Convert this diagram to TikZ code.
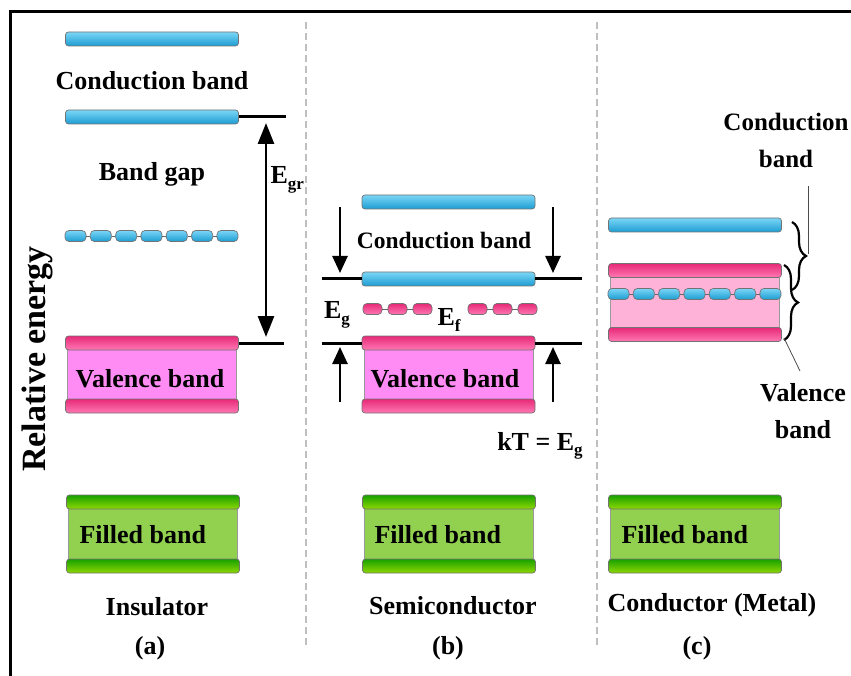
\documentclass[tikz,border=0pt]{standalone}
\usepackage{fontspec}
\setmainfont{Liberation Serif}
\usepackage{tikz}
\usetikzlibrary{arrows.meta,positioning,decorations.pathreplacing,calc}

\definecolor{cbTop}{HTML}{7AD6F7}
\definecolor{cbBot}{HTML}{1C9DD2}
\definecolor{vbTop}{HTML}{E62A78}
\definecolor{vbBot}{HTML}{FF78B4}
\definecolor{fbTop}{HTML}{18A000}
\definecolor{fbBot}{HTML}{8ED800}
\definecolor{vfill}{HTML}{FF8CF5}
\definecolor{mfill}{HTML}{FFB2D8}
\definecolor{ffill}{HTML}{92D050}

\newcommand{\lowsub}[1]{\raisebox{-0.45ex}{\fontsize{17}{17}\selectfont #1}}

\begin{document}
\begin{tikzpicture}[
  x=1pt, y=-1pt,
  every node/.style={font=\fontsize{26}{37}\selectfont\bfseries},
  bar/.style={rectangle, rounded corners=3pt, draw=black!55, line width=0.7pt,
    minimum width=173pt, minimum height=14pt, inner sep=0pt},
  cbar/.style={bar, top color=cbTop, bottom color=cbBot},
  vbar/.style={bar, top color=vbTop, bottom color=vbBot},
  fbar/.style={bar, top color=fbTop, bottom color=fbBot},
  seg/.style={minimum width=#1, minimum height=11pt, rounded corners=4pt},
  link/.style={line width=0.7pt, black!60},
  band/.style={rectangle, draw=black!40, line width=0.6pt, minimum width=169pt, inner sep=0pt},
  level/.style={line width=3pt},
  garr/.style={line width=2.6pt, {Triangle[length=21pt,width=16pt]}-{Triangle[length=21pt,width=16pt]}},
  darr/.style={line width=2.6pt, -{Triangle[length=17pt,width=15pt]}},
  brc/.style={decorate, decoration={brace, amplitude=14pt}, line width=2.2pt},
  lead/.style={line width=0.8pt, black!70},
  sep/.style={gray!50, line width=1.2pt, dash pattern=on 7pt off 4pt},
]
\useasboundingbox (0,0) rectangle (851,676);

%% frame and separators
\coordinate (fr1) at (10,676);
\coordinate (fr2) at (10,12);
\coordinate (fr3) at (851,12);
\draw[line width=3pt] (fr1) -- (fr2) -- (fr3);
\coordinate (s1a) at (306,22);
\coordinate (s1b) at (306,648);
\coordinate (s2a) at (597,22);
\coordinate (s2b) at (597,648);
\draw[sep] (s1a) -- (s1b);
\draw[sep] (s2a) -- (s2b);

\node[rotate=90, font=\fontsize{34}{34}\selectfont\bfseries] (yl) at (37,359) {Relative energy};

%% ── (a) insulator ────────────────────────────────────────────
\node[cbar] (cA1) at (152,39) {};
\node (cbA) at (152,81) {Conduction band};
\node[cbar] (cA2) at (152,117) {};
\node (gapA) at (152,174) {Band gap};

\foreach \i in {1,...,7} {
  \node[cbar, seg=21pt] (dA\i) at ({75.5+(\i-1)*25.33},236) {};
}
\foreach \i [count=\j from 2] in {1,...,6} { \draw[link] (dA\i.east) -- (dA\j.west); }

\node[band, fill=vfill, minimum height=63pt] (vbA) at (152,374.5) {};
\node[vbar] (vA1) at (152,343) {};
\node[vbar] (vA2) at (152,406) {};
\node (vtA) at (150,379) {Valence band};

\coordinate (lA1) at (286,117);
\coordinate (lA2) at (284,343);
\draw[level] (cA2.east) -- (lA1);
\draw[level] (vA1.east) -- (lA2);
\coordinate (eA1) at (266,123);
\coordinate (eA2) at (266,337);
\draw[garr] (eA1) -- (eA2);
\node[anchor=west] (egr) at (267,180) {E\lowsub{gr}};

\node[band, fill=ffill, minimum height=64pt] (fbA) at (153,534) {};
\node[fbar] (fA1) at (153,502) {};
\node[fbar] (fA2) at (153,566) {};
\node[anchor=west] (ftA) at (76,535) {Filled band};
\node (nA) at (157,607) {Insulator};
\node (tA) at (150,648) {(a)};

%% ── (b) semiconductor ────────────────────────────────────────
\node[cbar] (cB1) at (448.5,202) {};
\node[font=\fontsize{23.5}{28}\selectfont\bfseries] (cbB) at (444,240) {Conduction band};
\node[cbar] (cB2) at (448.5,279) {};

\coordinate (lB1) at (322,279);
\coordinate (lB2) at (582,279);
\draw[level] (lB1) -- (cB2.west);
\draw[level] (cB2.east) -- (lB2);

\foreach \i in {1,2,3} {
  \node[vbar, seg=19pt] (pL\i) at ({372.5+(\i-1)*25},309) {};
  \node[vbar, seg=19pt] (pR\i) at ({477.5+(\i-1)*25},309) {};
}
\foreach \i [count=\j from 2] in {1,2} {
  \draw[link] (pL\i.east) -- (pL\j.west);
  \draw[link] (pR\i.east) -- (pR\j.west);
}
\node (efB) at (449,320) {E\lowsub{f}};
\node (egB) at (337,315) {E\lowsub{g}};

\node[band, fill=vfill, minimum height=63pt] (vbB) at (448.5,374.5) {};
\node[vbar] (vB1) at (448.5,343) {};
\node[vbar] (vB2) at (448.5,406) {};
\node (vtB) at (445,379) {Valence band};

\coordinate (lB3) at (322,343);
\coordinate (lB4) at (582,343);
\draw[level] (lB3) -- (vB1.west);
\draw[level] (vB1.east) -- (lB4);

\coordinate (aB1) at (340,207);
\coordinate (aB2) at (340,273);
\coordinate (aB3) at (553,207);
\coordinate (aB4) at (553,273);
\coordinate (aB5) at (340,402);
\coordinate (aB6) at (340,347);
\coordinate (aB7) at (553,402);
\coordinate (aB8) at (553,347);
\draw[darr] (aB1) -- (aB2);
\draw[darr] (aB3) -- (aB4);
\draw[darr] (aB5) -- (aB6);
\draw[darr] (aB7) -- (aB8);
\node (ktB) at (540,446) {kT = E\lowsub{g}};

\node[band, fill=ffill, minimum height=64pt] (fbB) at (449,534) {};
\node[fbar] (fB1) at (449,502) {};
\node[fbar] (fB2) at (449,566) {};
\node[anchor=west] (ftB) at (371,535) {Filled band};
\node (nB) at (453,606) {Semiconductor};
\node (tB) at (448,648) {(b)};

%% ── (c) conductor ────────────────────────────────────────────
\node[cbar] (cC1) at (695,225) {};
\node[band, fill=mfill, minimum height=64pt] (mbC) at (695,302.5) {};
\node[vbar] (mC1) at (695,270.5) {};
\node[vbar] (mC2) at (695,334.5) {};
\foreach \i in {1,...,7} {
  \node[cbar, seg=21pt] (dC\i) at ({618.5+(\i-1)*25.33},294) {};
}
\foreach \i [count=\j from 2] in {1,...,6} { \draw[link] (dC\i.east) -- (dC\j.west); }

\coordinate (bC1) at (792,222);
\coordinate (bC2) at (792,290);
\coordinate (bC3) at (784,265);
\coordinate (bC4) at (784,340);
\draw[brc] (bC1) -- (bC2);
\draw[brc] (bC3) -- (bC4);

\node[align=center, font=\fontsize{25}{37}\selectfont\bfseries] (lbC) at (786,140) {Conduction\\band};
\node[align=center] (lbV) at (803,411) {Valence\\band};
\coordinate (kC1) at (808,254);
\coordinate (kC2) at (808,186);
\coordinate (kC3) at (784,338);
\coordinate (kC4) at (800,371);
\draw[lead] (kC1) -- (kC2);
\draw[lead] (kC3) -- (kC4);

\node[band, fill=ffill, minimum height=64pt] (fbC) at (695,534) {};
\node[fbar] (fC1) at (695,502) {};
\node[fbar] (fC2) at (695,566) {};
\node[anchor=west] (ftC) at (618,535) {Filled band};
\node (nC) at (712,605) {Conductor (Metal)};
\node (tC) at (697,648) {(c)};

\end{tikzpicture}
\end{document}
